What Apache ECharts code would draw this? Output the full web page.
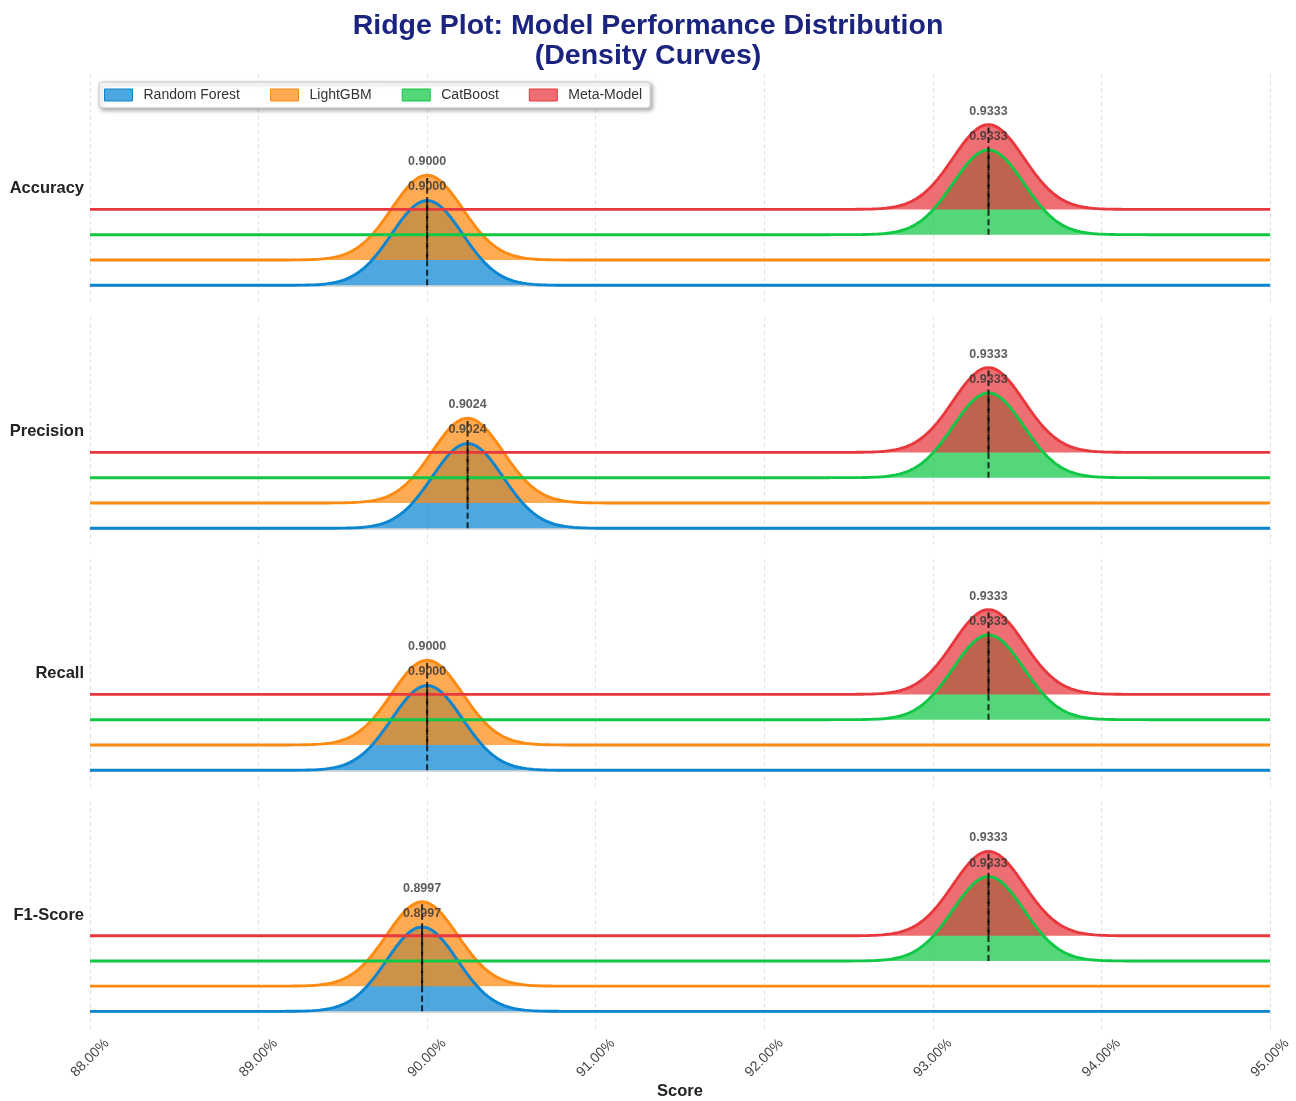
<!DOCTYPE html>
<html><head><meta charset="utf-8">
<script src="https://cdn.jsdelivr.net/npm/echarts@6/dist/echarts.min.js"></script>
<style>html,body{margin:0;padding:0;background:#fff}#c{width:1296px;height:1101px}</style>
</head><body><div id="c"></div>
<script>
// ---- data ----
const metrics = ['Accuracy', 'Precision', 'Recall', 'F1-Score'];
const models = ['Random Forest', 'LightGBM', 'CatBoost', 'Meta-Model'];
const randomForest = [0.9000, 0.9024, 0.9000, 0.8997];
const lightGBM     = [0.9000, 0.9024, 0.9000, 0.8997];
const catBoost     = [0.9333, 0.9333, 0.9333, 0.9333];
const metaModel    = [0.9333, 0.9333, 0.9333, 0.9333];
const xMin = 0.88, xMax = 0.95, xStep = 0.01;
const kdeBandwidth = 0.0021;   // spread of each density curve (score units)
const ridgePeak = 3.35;        // peak height in ridge-spacing units

// ---- styles ----
const lineColors = ['#0a85d1', '#fd8a11', '#10c845', '#e8383d'];
const fillAlpha = 0.72;
const FONT = "'Liberation Sans', Arial, Helvetica, sans-serif";
const gridTops = [74, 317, 559, 801];
const gridH = 229;

const scores = [randomForest, lightGBM, catBoost, metaModel];
const samples = [];
for (let i = 0; i <= 700; i++) samples.push(+(xMin + i * (xMax - xMin) / 700).toFixed(6));

function rgba(hex, a) {
  const n = parseInt(hex.slice(1), 16);
  return `rgba(${n >> 16},${(n >> 8) & 255},${n & 255},${a})`;
}

const grids = [], xAxes = [], yAxes = [], series = [];
metrics.forEach((metric, g) => {
  grids.push({ left: 90, right: 26, top: gridTops[g], height: gridH });
  const last = g === metrics.length - 1;
  xAxes.push({
    type: 'value', gridIndex: g, min: xMin, max: xMax, interval: xStep,
    axisLine: { show: true, lineStyle: { color: '#cfcfcf', width: 1.5 } },
    axisTick: { show: false },
    splitLine: { show: true, lineStyle: { color: '#e2e2e2', type: [4, 3], width: 1 } },
    axisLabel: {
      show: last, rotate: 45, fontSize: 14, color: '#444', fontFamily: FONT, margin: 29,
      align: 'center', verticalAlign: 'middle',
      formatter: v => (v * 100).toFixed(2) + '%'
    },
    name: last ? 'Score' : '', nameLocation: 'middle', nameGap: 54,
    nameTextStyle: { fontSize: 16.5, fontWeight: 'bold', color: '#222', fontFamily: FONT }
  });
  yAxes.push({
    type: 'value', gridIndex: g, min: -0.7, max: 8.35,
    axisLine: { show: false }, axisTick: { show: false }, axisLabel: { show: false },
    splitLine: { show: false },
    name: metric, nameLocation: 'middle', nameRotate: 0, nameGap: 6,
    nameTextStyle: { fontSize: 16.5, fontWeight: 'bold', color: '#222', fontFamily: FONT, align: 'right' }
  });
  const labelPts = [];
  models.forEach((model, m) => {
    const s = scores[m][g];
    const base = m;
    series.push({
      type: 'line', name: model, xAxisIndex: g, yAxisIndex: g,
      data: samples.map(x => [x, base + ridgePeak * Math.exp(-((x - s) * (x - s)) / (2 * kdeBandwidth * kdeBandwidth))]),
      showSymbol: false, silent: true,
      lineStyle: { color: lineColors[m], width: 2.9 },
      itemStyle: { color: lineColors[m] },
      areaStyle: { color: lineColors[m], opacity: fillAlpha, origin: base },
      z: 2, animation: false
    });
    series.push({
      type: 'line', name: '_mean', xAxisIndex: g, yAxisIndex: g,
      data: [[s, base], [s, base + ridgePeak]], showSymbol: false, silent: true,
      lineStyle: { color: 'rgba(0,0,0,0.78)', width: 2, type: [6, 3.5] },
      z: 5, animation: false
    });
    labelPts.push([s, base + ridgePeak]);
  });
  series.push({
    type: 'scatter', name: '_lbl', xAxisIndex: g, yAxisIndex: g, data: labelPts,
    symbolSize: 2, itemStyle: { color: 'transparent' }, silent: true, z: 6, animation: false,
    label: {
      show: true, position: 'top', distance: 6, fontSize: 12.5, fontWeight: 'bold',
      color: '#333', fontFamily: FONT, formatter: p => p.value[0].toFixed(4)
    }
  });
});

const chart = echarts.init(document.getElementById('c'), null, { renderer: 'canvas' });
chart.setOption({
  backgroundColor: '#fff',
  animation: false,
  textStyle: { fontFamily: FONT },
  title: {
    text: 'Ridge Plot: Model Performance Distribution\n(Density Curves)',
    left: 'center', top: 6,
    textStyle: { fontSize: 28.5, fontWeight: 'bold', color: '#1a237e', lineHeight: 30, fontFamily: FONT }
  },
  legend: {
    left: 99, top: 82, orient: 'horizontal',
    itemWidth: 28, itemHeight: 12, itemGap: 30,
    padding: [6, 8, 6, 5],
    backgroundColor: '#fff', borderColor: '#c8c8c8', borderWidth: 1, borderRadius: 3,
    shadowBlur: 4, shadowOffsetX: 2, shadowOffsetY: 2, shadowColor: 'rgba(0,0,0,0.35)',
    textStyle: { fontSize: 14, color: '#333', fontFamily: FONT, padding: [0, 0, 0, 6] },
    data: models.map((n, i) => ({
      name: n, icon: 'rect',
      itemStyle: { color: rgba(lineColors[i], fillAlpha), borderColor: lineColors[i], borderWidth: 1 }
    })),
    selectedMode: false
  },
  grid: grids, xAxis: xAxes, yAxis: yAxes, series: series
});
</script></body></html>
